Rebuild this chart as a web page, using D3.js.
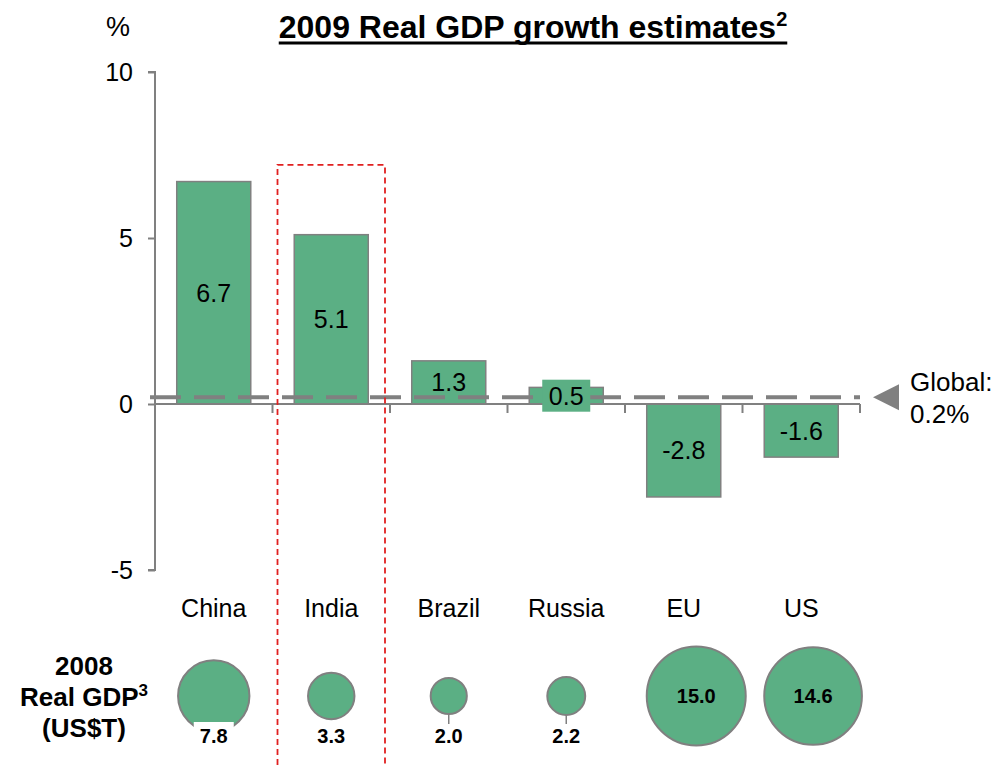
<!DOCTYPE html>
<html lang="en">
<head>
    <meta charset="UTF-8">
    <title>2009 Real GDP growth estimates</title>
    <script src="https://cdn.jsdelivr.net/npm/d3@7"></script>
    <style>
        body { margin: 0; background: #fff; }
        svg { font-family: "Liberation Sans", Arial, sans-serif; }
    </style>
</head>
<body>
<div id="chart"></div>
<script>
    // data
    const countries = ["China", "India", "Brazil", "Russia", "EU", "US"];
    const growth2009 = [6.7, 5.1, 1.3, 0.5, -2.8, -1.6];
    const gdp2008 = [7.8, 3.3, 2.0, 2.2, 15.0, 14.6];
    const globalGrowth = 0.2;
    const yTicks = [-5, 0, 5, 10];
    const highlighted = "India";

    const width = 1007, height = 765;
    const green = "#5BAF84", grey = "#808080", red = "#E02020";

    const svg = d3.select("#chart").append("svg")
        .attr("width", width)
        .attr("height", height);

    const x = d3.scaleBand()
        .domain(countries)
        .range([155, 860])
        .paddingInner(0)
        .paddingOuter(0);

    const y = d3.scaleLinear()
        .domain([-5, 10])
        .range([570, 72]);

    const r = d3.scaleSqrt()
        .domain([0, 15])
        .range([0, 49.5]);

    const barW = x.bandwidth() * 0.63;
    const cx = d => x(d) + x.bandwidth() / 2;
    const barLeft = d => cx(d) - barW / 2;

    // title
    const title = svg.append("text")
        .attr("x", 533)
        .attr("y", 38)
        .attr("text-anchor", "middle")
        .attr("font-size", 32)
        .attr("font-weight", "bold");
    title.append("tspan").text("2009 Real GDP growth estimates");
    title.append("tspan").attr("font-size", 20).attr("dy", -12).text("2");
    const tb = title.node().getBBox();
    svg.append("line")
        .attr("x1", tb.x).attr("x2", tb.x + tb.width)
        .attr("y1", 43).attr("y2", 43)
        .attr("stroke", "#000").attr("stroke-width", 3);

    svg.append("text")
        .attr("x", 118).attr("y", 36)
        .attr("text-anchor", "middle")
        .attr("font-size", 27)
        .text("%");

    // y axis
    const yAxis = svg.append("g")
        .attr("transform", "translate(155,0)")
        .call(d3.axisLeft(y).tickValues(yTicks).tickSize(7).tickPadding(15)
            .tickFormat(d => String(d)));
    yAxis.selectAll("path, line").attr("stroke", grey).attr("stroke-width", 2);
    yAxis.select(".domain").attr("d", `M-7,${y(10)}H0V${y(-5)}H-7`);
    yAxis.selectAll("text").attr("font-size", 25).attr("fill", "#000")
        .attr("font-family", "Liberation Sans, Arial, sans-serif");

    // bars
    const bars = svg.append("g");
    countries.forEach((c, i) => {
        const v = growth2009[i];
        bars.append("rect")
            .attr("x", barLeft(c))
            .attr("width", barW)
            .attr("y", y(Math.max(0, v)))
            .attr("height", Math.abs(y(v) - y(0)))
            .attr("fill", green)
            .attr("stroke", grey)
            .attr("stroke-width", 1.5);
    });

    // x axis with ticks at band boundaries
    const xAxis = svg.append("g");
    xAxis.append("line")
        .attr("x1", 155).attr("x2", 860)
        .attr("y1", y(0)).attr("y2", y(0))
        .attr("stroke", grey).attr("stroke-width", 2);
    const bounds = countries.map(c => x(c)).concat([x.range()[1]]);
    xAxis.selectAll(".tk").data(bounds.slice(1)).join("line")
        .attr("x1", d => d).attr("x2", d => d)
        .attr("y1", y(0)).attr("y2", y(0) + 9)
        .attr("stroke", grey).attr("stroke-width", 2);

    // global average dashed line
    svg.append("line")
        .attr("x1", 150).attr("x2", 860)
        .attr("y1", y(globalGrowth)).attr("y2", y(globalGrowth))
        .attr("stroke", grey)
        .attr("stroke-width", 4)
        .attr("stroke-dasharray", "31,13");

    const gy = y(globalGrowth);
    svg.append("path")
        .attr("d", `M873,${gy}L899,${gy - 13}L899,${gy + 13}Z`)
        .attr("fill", grey);
    svg.append("text").attr("x", 910).attr("y", gy - 6).attr("font-size", 26).text("Global:");
    svg.append("text").attr("x", 910).attr("y", gy + 26).attr("font-size", 26).text(`${globalGrowth}%`);

    // bar value labels (a green box behind the label when the bar is too thin)
    const labels = svg.append("g");
    countries.forEach((c, i) => {
        const v = growth2009[i];
        const mid = (y(v) + y(0)) / 2;
        const barH = Math.abs(y(v) - y(0));
        if (barH < 26) {
            labels.append("rect")
                .attr("x", cx(c) - 24).attr("width", 48)
                .attr("y", mid - 16).attr("height", 32)
                .attr("fill", green);
        }
        labels.append("text")
            .attr("x", cx(c))
            .attr("y", mid + 9)
            .attr("text-anchor", "middle")
            .attr("font-size", 25)
            .text(v.toFixed(1));
    });

    // category labels
    svg.append("g").selectAll("text").data(countries).join("text")
        .attr("x", d => cx(d))
        .attr("y", 617)
        .attr("text-anchor", "middle")
        .attr("font-size", 25)
        .text(d => d);

    // 2008 GDP bubbles
    const rowY = 696;
    const labelY = 743;
    const left = svg.append("text")
        .attr("text-anchor", "middle")
        .attr("font-size", 26)
        .attr("font-weight", "bold");
    left.append("tspan").attr("x", 84).attr("y", 675).text("2008");
    const l2 = left.append("tspan").attr("x", 84).attr("y", 706);
    l2.append("tspan").text("Real GDP");
    l2.append("tspan").attr("font-size", 17).attr("dy", -10).text("3");
    left.append("tspan").attr("x", 84).attr("y", 737).text("(US$T)");

    const bubbles = svg.append("g");
    countries.forEach((c, i) => {
        const v = gdp2008[i];
        const rad = r(v);
        // centred in the band, but never starting left of the bar
        const bx = Math.max(cx(c), barLeft(c) + rad);
        bubbles.append("circle")
            .attr("cx", bx).attr("cy", rowY)
            .attr("r", rad)
            .attr("fill", green)
            .attr("stroke", grey)
            .attr("stroke-width", 2);
        const t = bubbles.append("text")
            .attr("x", bx)
            .attr("text-anchor", "middle")
            .attr("font-size", 20)
            .attr("font-weight", "bold")
            .text(v.toFixed(1));
        if (rad > 42) {
            t.attr("y", rowY + 7);
        } else {
            t.attr("y", labelY);
            const top = labelY - 16;
            if (rowY + rad > top - 2) {
                bubbles.insert("rect", "text")
                    .attr("x", bx - 20).attr("width", 40)
                    .attr("y", top - 5).attr("height", 24)
                    .attr("fill", "#fff");
            } else if (top - (rowY + rad) > 8) {
                bubbles.append("line")
                    .attr("x1", bx).attr("x2", bx)
                    .attr("y1", rowY + rad).attr("y2", top - 3)
                    .attr("stroke", grey).attr("stroke-width", 1.5);
            }
        }
    });

    // highlight box around India
    const hx0 = x(highlighted) + 5, hx1 = x(highlighted) + x.bandwidth() - 5;
    svg.append("path")
        .attr("d", `M${hx0},${height}V${y(7.2)}H${hx1}V${height}`)
        .attr("fill", "none")
        .attr("stroke", red)
        .attr("stroke-width", 1.8)
        .attr("stroke-dasharray", "6,4");
</script>
</body>
</html>
